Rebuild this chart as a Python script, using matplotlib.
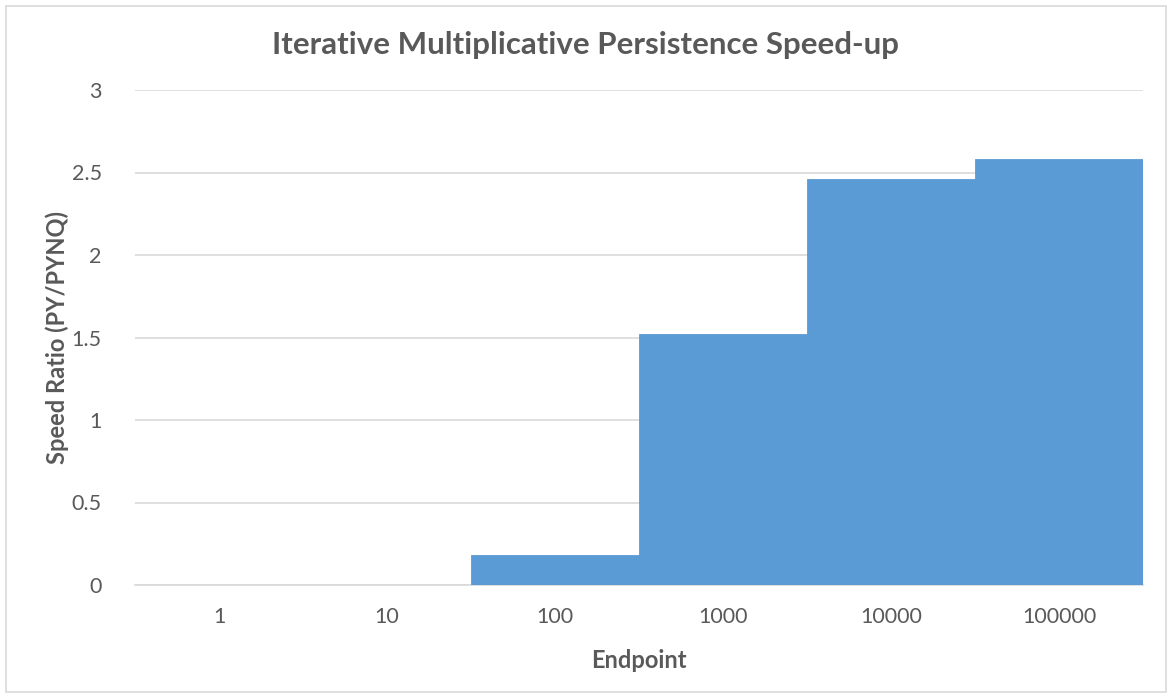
import matplotlib.pyplot as plt
from matplotlib.patches import Rectangle

endpoints = ['1', '10', '100', '1000', '10000', '100000']
speed_ratio = [0.0, 0.0, 0.18, 1.52, 2.46, 2.58]
y_ticks = [0, 0.5, 1, 1.5, 2, 2.5, 3]
y_tick_labels = ['0', '0.5', '1', '1.5', '2', '2.5', '3']

plt.rcParams['font.family'] = ['Lato', 'DejaVu Sans']
grey = '#595959'

fig = plt.figure(figsize=(11.7, 6.94), dpi=100)
ax = fig.add_axes([135 / 1170, 109 / 694, 1008 / 1170, 495 / 694])

x = list(range(len(endpoints)))
ax.bar(x, speed_ratio, width=1.0, color='#5B9BD5', edgecolor='#5B9BD5',
       linewidth=0.6, zorder=3)

ax.set_xlim(-0.5, len(endpoints) - 0.5)
ax.set_ylim(0, 3)
ax.set_xticks(x)
ax.set_xticklabels(endpoints, fontsize=15.5, color=grey)
ax.set_yticks(y_ticks)
ax.set_yticklabels(y_tick_labels, fontsize=15.5, color=grey)
ax.tick_params(length=0, pad=16)
ax.tick_params(axis='y', pad=24)

ax.grid(axis='y', color='#d9d9d9', linewidth=1.2, zorder=0)
for side in ['top', 'right', 'left']:
    ax.spines[side].set_visible(False)
ax.spines['bottom'].set_color('#d9d9d9')
ax.spines['bottom'].set_linewidth(1.2)

ax.set_xlabel('Endpoint', fontsize=17, fontweight='bold', color=grey, labelpad=16)
ax.set_ylabel('Speed Ratio (PY/PYNQ)', fontsize=17, fontweight='bold', color=grey,
              labelpad=2)
fig.text(0.5, 1 - 45 / 694, 'Iterative Multiplicative Persistence Speed-up',
         ha='center', va='center', fontsize=22.5, fontweight='bold', color=grey)

# thin outline around the chart area
fig.patches.append(Rectangle((6 / 1170, 2 / 694), 1160 / 1170, 686 / 694,
                             transform=fig.transFigure, fill=False,
                             edgecolor='#d9d9d9', linewidth=1.2))

fig.savefig('out.png', dpi=100)
